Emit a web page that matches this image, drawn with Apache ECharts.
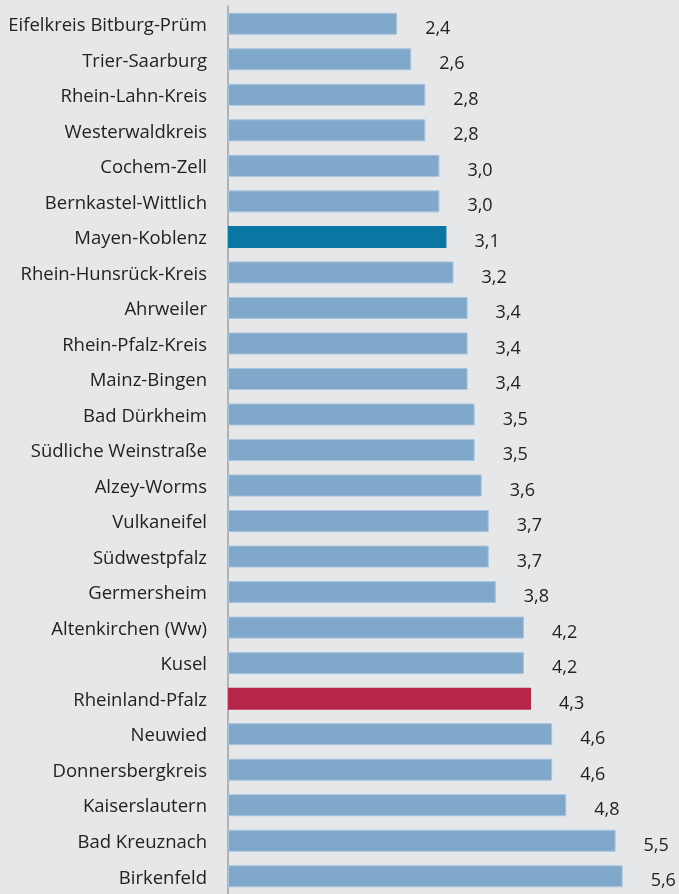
<!DOCTYPE html>
<html lang="de">
  <head>
    <meta charset="UTF-8" />
    <title>Kreise Rheinland-Pfalz</title>
    <script src="https://cdn.jsdelivr.net/npm/echarts@6/dist/echarts.min.js"></script>
    <style>
      html, body { margin: 0; padding: 0; background: #e6e7e9; }
      #main { width: 679px; height: 894px; }
    </style>
  </head>
  <body>
    <div id="main"></div>
    <script>
      // Kategorien von oben nach unten
      var kreise = [
        'Eifelkreis Bitburg-Prüm', 'Trier-Saarburg', 'Rhein-Lahn-Kreis', 'Westerwaldkreis',
        'Cochem-Zell', 'Bernkastel-Wittlich', 'Mayen-Koblenz', 'Rhein-Hunsrück-Kreis',
        'Ahrweiler', 'Rhein-Pfalz-Kreis', 'Mainz-Bingen', 'Bad Dürkheim',
        'Südliche Weinstraße', 'Alzey-Worms', 'Vulkaneifel', 'Südwestpfalz',
        'Germersheim', 'Altenkirchen (Ww)', 'Kusel', 'Rheinland-Pfalz',
        'Neuwied', 'Donnersbergkreis', 'Kaiserslautern', 'Bad Kreuznach', 'Birkenfeld'
      ];
      var werte = [
        2.4, 2.6, 2.8, 2.8, 3.0, 3.0, 3.1, 3.2, 3.4, 3.4, 3.4, 3.5, 3.5,
        3.6, 3.7, 3.7, 3.8, 4.2, 4.2, 4.3, 4.6, 4.6, 4.8, 5.5, 5.6
      ];
      var hervorgehoben = { 'Mayen-Koblenz': '#0a76a4', 'Rheinland-Pfalz': '#b8264a' };

      var myChart = echarts.init(document.getElementById('main'));
      var option = {
        backgroundColor: '#e6e7e9',
        textStyle: { fontFamily: 'Open Sans' },
        grid: { left: 228, right: 0, top: 6, bottom: 0 },
        xAxis: {
          type: 'value',
          min: 0,
          max: 6.4,
          show: false
        },
        yAxis: {
          type: 'category',
          inverse: true,
          data: kreise,
          axisLine: { lineStyle: { color: '#a0a0a0', width: 1.5 } },
          axisTick: { show: false },
          axisLabel: {
            color: '#222',
            fontSize: 18.5,
            margin: 21,
            verticalAlign: 'top',
            lineHeight: 4
          }
        },
        series: [
          {
            type: 'bar',
            barWidth: 22,
            data: werte.map(function (v, i) {
              var c = hervorgehoben[kreise[i]];
              return {
                value: v,
                itemStyle: c
                  ? { color: c }
                  : { color: '#7fa8cb', borderColor: '#a9c4dd', borderWidth: 1 }
              };
            }),
            label: {
              show: true,
              position: 'right',
              distance: 28,
              offset: [0, 5],
              color: '#222',
              fontSize: 18,
              formatter: function (p) { return p.value.toFixed(1).replace('.', ','); }
            },
            animation: false
          }
        ]
      };
      myChart.setOption(option);
    </script>
  </body>
</html>
